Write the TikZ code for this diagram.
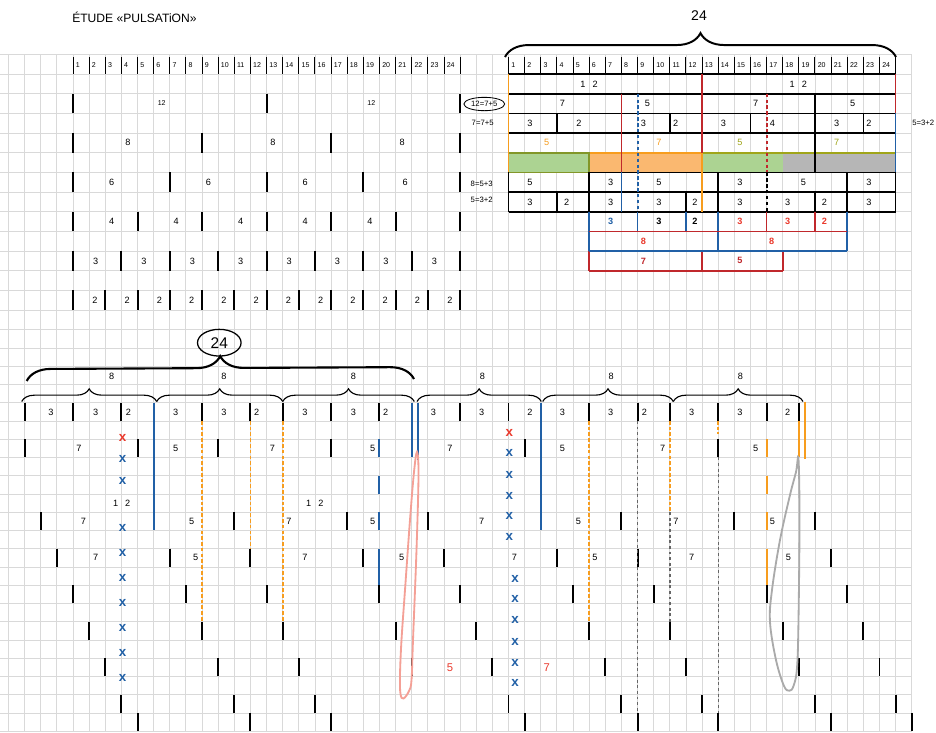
\documentclass[tikz,border=0pt]{standalone}
\usepackage{fontspec}
\setmainfont{Liberation Sans}
\usetikzlibrary{decorations.pathreplacing,shapes.geometric}

\definecolor{pblue}{RGB}{33,96,166}
\definecolor{porange}{RGB}{247,157,30}
\definecolor{pred}{RGB}{192,40,44}
\definecolor{pbright}{RGB}{234,58,45}
\definecolor{pgreen}{RGB}{172,211,146}
\definecolor{pofill}{RGB}{250,184,112}
\definecolor{pgrey}{RGB}{182,182,182}
\definecolor{polive}{RGB}{160,165,25}
\definecolor{pdkolive}{RGB}{130,150,40}
\definecolor{ploop}{RGB}{244,160,150}
\definecolor{pgloop}{RGB}{170,170,170}

\tikzset{
  gridline/.style={draw=black!15, line width=0.6pt},
  bar/.style={line width=1.4pt},
  hbar/.style={line width=0.7pt},
  tline/.style={line width=1.2pt},
  num/.style={font=\fontsize{6.5}{7}\selectfont, inner sep=0pt},
  bnum/.style={font=\fontsize{6.5}{7}\selectfont\bfseries, inner sep=0pt},
  hnum/.style={font=\fontsize{5}{6}\selectfont, inner sep=0pt, anchor=west},
  eqlabel/.style={font=\fontsize{5.5}{6}\selectfont, inner sep=0pt},
  odots/.style={draw=porange, line width=1.3pt, dash pattern=on 2.6pt off 1.5pt},
  gdash/.style={draw=black!60, line width=1pt, dash pattern=on 2pt off 2pt},
  tdash/.style={line width=1.4pt, dash pattern=on 2.4pt off 1.8pt},
  xmark/.style={font=\fontsize{9.5}{10}\selectfont\bfseries, text=pblue, inner sep=0pt},
  bigbrace/.style={decorate, decoration={brace, amplitude=17pt}, line width=1.4pt},
  smallbrace/.style={decorate, decoration={brace, amplitude=9pt}, line width=0.8pt},
  bigtext/.style={font=\fontsize{11}{12}\selectfont, inner sep=0pt},
}

\begin{document}
\begin{tikzpicture}[x=0.025cm, y=-0.025cm,
  declare function={cx(\n)=73+16.13*\n; tx(\n)=508.5+16.13*\n; ty(\n)=74+19.67*\n; by(\n)=402.7+18.25*\n;}]
\fill[white] (0,0) rectangle (936,732);
\useasboundingbox (0,0) rectangle (936,732);

% grid paper
\foreach \i in {-4,...,52} \draw[gridline] ({cx(\i)},55) -- ({cx(\i)},732);
\foreach \i in {-1,...,12} \draw[gridline] (0,{ty(\i)}) -- (912,{ty(\i)});
\foreach \i in {-4,...,18} \draw[gridline] (0,{by(\i)}) -- (912,{by(\i)});

\node[anchor=west, font=\fontsize{8.6}{10}\selectfont, inner sep=0pt] (title) at (72,17) {ÉTUDE «PULSATiON»};

% ---- top left: divisions of 24
\foreach \i in {0,...,24} \draw[hbar] ({cx(\i)},57) -- ({cx(\i)},{ty(0)});
\foreach \i in {1,...,24} \node[hnum] (ha\i) at ({cx(\i-1)+2.5},65.5) {\i};
\foreach \r/\s in {1/12,3/8,5/6,7/4,9/3,11/2}{
  \foreach \i in {0,\s,...,24}
    \draw[bar] ({cx(\i)},{ty(\r)}) -- ({cx(\i)},{ty(\r+1)});
}
\node[hnum, anchor=center] (d12a) at ({cx(5.5)},{(ty(1)+ty(2))/2}) {12};
\node[hnum, anchor=center] (d12b) at ({cx(18.5)},{(ty(1)+ty(2))/2}) {12};
\foreach \x/\r/\lbl [count=\n] in {3.4/3/8,12.4/3/8,20.4/3/8,
    2.4/5/6,8.4/5/6,14.4/5/6,20.6/5/6,
    2.4/7/4,6.4/7/4,10.4/7/4,14.4/7/4,18.4/7/4}
  \node[num] (dl\n) at ({cx(\x)},{(ty(\r)+ty(\r+1))/2}) {\lbl};
\foreach \i in {0,3,...,21} \node[num] (d3-\i) at ({cx(\i+1.4)},{(ty(9)+ty(10))/2}) {3};
\foreach \i in {0,2,...,22} \node[num] (d2-\i) at ({cx(\i+1.36)},{(ty(11)+ty(12))/2}) {2};

% ---- top right: the table
\fill[pgreen] ({tx(0)},{ty(4)}) rectangle ({tx(5)},{ty(5)});
\fill[pofill] ({tx(5)},{ty(4)}) rectangle ({tx(12)},{ty(5)});
\fill[pgreen] ({tx(12)},{ty(4)}) rectangle ({tx(17)},{ty(5)});
\fill[pgrey] ({tx(17)},{ty(4)}) rectangle ({tx(24)},{ty(5)});

\foreach \i in {0,...,24} \draw[hbar] ({tx(\i)},57) -- ({tx(\i)},{ty(0)});
\foreach \i in {1,...,24} \node[hnum] (hb\i) at ({tx(\i-1)+2.5},65.5) {\i};

\foreach \i in {0,1,2,3,5,6,7} \draw[tline] ({tx(0)},{ty(\i)}) -- ({tx(24)},{ty(\i)});
\draw[tline, porange] ({tx(0)},{ty(4)}) -- ({tx(12)},{ty(4)});
\draw[tline, polive] ({tx(12)},{ty(4)}) -- ({tx(24)},{ty(4)});
\draw[tline, pdkolive] ({tx(0)},{ty(4)}) rectangle ({tx(5)},{ty(5)});

\foreach \x/\a/\b/\col in {0/0/5/porange, 0/5/7/black,
    24/0/2/pred, 24/2/5/pblue, 24/5/7/black,
    12/0/4/pred, 12/4/7/porange, 7/1/5/pred, 7/5/7/pblue,
    19/1/5/black, 19/6/7/black,
    3/2/3/black, 10/2/3/black, 15/2/3/black, 22/2/3/black,
    5/5/7/black, 13/5/7/black, 21/5/7/black, 3/6/7/black, 11/6/7/black,
    5/7/9/pblue, 5/9/10/pred, 8/7/8/pblue, 11/7/8/pblue, 13/7/9/pblue,
    16/7/8/pred, 19/7/8/pred, 21/7/9/pblue, 12/9/10/pred, 17/9/10/pred}
  \draw[tline, draw=\col] ({tx(\x)},{ty(\a)}) -- ({tx(\x)},{ty(\b)});
\draw[tline, pred] ({tx(5)},{ty(8)}) -- ({tx(21)},{ty(8)});
\draw[tline, pblue] ({tx(5)},{ty(9)}) -- ({tx(21)},{ty(9)});
\draw[tline, pred] ({tx(5)},{ty(10)}) -- ({tx(17)},{ty(10)});
\draw[tdash, pblue] ({tx(8)},{ty(1)}) -- ({tx(8)},{ty(7)});
\draw[tdash, pred] ({tx(16)},{ty(1)}) -- ({tx(16)},{ty(5)});
\draw[tdash, black] ({tx(16)},{ty(5)}) -- ({tx(16)},{ty(7)});

\node[num] (t12a) at (589,{(ty(0)+ty(1))/2}) {1\hspace{5pt}2};
\node[num] (t12b) at (798.3,{(ty(0)+ty(1))/2}) {1\hspace{5pt}2};
\foreach \x/\r/\lbl [count=\n] in {562.3/1/7, 647.5/1/5, 755.7/1/7, 852.7/1/5,
    530/2/3, 579/2/2, 643.3/2/3, 675.7/2/2, 723.3/2/3, 772.3/2/4, 836.7/2/3, 869/2/2,
    530/5/5, 610.7/5/3, 659/5/5, 740/5/3, 803.3/5/5, 869/5/3,
    530/6/3, 566.7/6/2, 610.7/6/3, 659/6/3, 695/6/2, 740/6/3, 787.7/6/3, 824.3/6/2, 869/6/3}
  \node[num] (tv\n) at (\x,{(ty(\r)+ty(\r+1))/2}) {\lbl};
\foreach \x/\r/\lbl/\col [count=\n] in {546.7/3/5/porange, 659/3/7/porange, 740/3/5/polive, 836.7/3/7/polive}
  \node[num, text=\col] (tc\n) at (\x,{(ty(\r)+ty(\r+1))/2}) {\lbl};
\foreach \x/\r/\lbl/\col [count=\n] in {610.7/7/3/pblue, 659/7/3/black, 695/7/2/black,
    740/7/3/pbright, 787.7/7/3/pbright, 824.3/7/2/pbright,
    643.3/8/8/pbright, 771.7/8/8/pbright, 643.3/9/7/pred, 740/9/5/pred}
  \node[bnum, text=\col] (tb\n) at (\x,{(ty(\r)+ty(\r+1))/2}) {\lbl};

\node[draw, ellipse, line width=0.6pt, eqlabel, minimum width=29pt, minimum height=9.5pt] (eq1) at (484.3,104) {12=7+5};
\node[eqlabel] (eq2) at (482.7,122.7) {7=7+5};
\node[eqlabel] (eq3) at (481.7,184) {8=5+3};
\node[eqlabel] (eq4) at (481.7,200) {5=3+2};
\node[eqlabel] (eq5) at (923.3,122.7) {5=3+2};

\draw[bigbrace] (505,57) -- (896,57);
\node[font=\fontsize{10}{11}\selectfont, inner sep=0pt] (top24) at (699,16) {24};

% ---- bottom: the pulses
\draw[bigbrace, line width=1.5pt] (26.7,381) -- (414,379);
\node[draw, ellipse, line width=0.9pt, bigtext, minimum width=31pt, minimum height=19pt] (oval24) at (219.3,342.7) {24};
\foreach \a/\b [count=\n] in {21.7/156.7, 156.7/282.7, 282.7/414.3, 417/541.3, 542.7/673.3, 673.3/803}
  \draw[smallbrace] (\a,401.5) -- (\b,401.5);
\foreach \x [count=\n] in {111.7,224,353.3,482.3,611.2,740.5}
  \node[num] (b8-\n) at (\x,376) {8};

\foreach \k/\cols in {0/{-3,0,3,8,11,13,16,19,24,27,32,35,37,40,43,45},
    2/{-3,4,9,16,28,40}, 6/{-2,10,17,22,34,41,46}, 8/{-1,6,11,18,23,30,35,47},
    10/{0,7,12,19,24,31,36,43,48}, 12/{1,8,13,20,25,32,37,44,49},
    14/{2,9,14,21,26,33,38,45,50}, 16/{3,10,15,27,34,39,46,51},
    17/{4,11,16,28,35,40,47,52}}{
  \foreach \x in \cols
    \draw[bar] ({cx(\x)},{by(\k)}) -- ({cx(\x)},{by(\k+1)});
}

% coloured marks
\draw[bar, pblue] ({cx(5)},{by(0)}) -- ({cx(5)},{by(7)});
\draw[bar, pblue] ({cx(29)},{by(0)}) -- ({cx(29)},{by(7)});
\draw[bar, pblue] ({cx(21)},{by(0)}) -- ({cx(21)},{by(3)});
\draw[bar, pblue] ({cx(21)+6},{by(0)}) -- ({cx(21)+6},460);
\foreach \a/\b in {2/3,4/5,6/7,8/10}{
  \draw[bar, pblue] ({cx(19)},{by(\a)}) -- ({cx(19)},{by(\b)});
  \draw[bar, porange] ({cx(43)},{by(\a)}) -- ({cx(43)},{by(\b)});
}
\draw[bar, porange] ({cx(45)},{by(1)}) -- ({cx(45)},{by(3)});
\draw[bar, porange] ({cx(45)+6},401.5) -- ({cx(45)+6},458.5);
\foreach \x/\b in {8/12, 11/8, 13/12, 32/12, 37/6}
  \draw[odots] ({cx(\x)},{by(1)}) -- ({cx(\x)},{by(\b)});
\draw[odots] ({cx(40)},{by(1)}) -- ({cx(40)},434);
\draw[gdash] ({cx(35)},{by(1)}) -- ({cx(35)},{by(17)});
\draw[gdash] ({cx(37)},{by(6)}) -- ({cx(37)},{by(12)});
\draw[gdash] ({cx(40)},{by(3)}) -- ({cx(40)},{by(17)});

% labels of the rows
\foreach \x/\y/\lbl [count=\n] in {51/412.3/3, 95.7/412.3/3, 128.3/412.3/2, 175.7/412.3/3, 224/412.3/3,
    256.7/412.3/2, 305/412.3/3, 353.3/412.3/3, 385.7/412.3/2, 433.3/412.3/3, 481.7/412.3/3,
    530/412.3/2, 562.3/412.3/3, 610.7/412.3/3, 644.3/412.3/2, 691.7/412.3/3, 740/412.3/3, 787.7/412.3/2,
    79/448.3/7, 175.7/448.3/5, 272.3/448.3/7, 372.7/448.3/5, 450/448.3/7, 562.3/448.3/5, 662.7/448.3/7, 755.7/448.3/5,
    83.3/521.3/7, 191.7/521.3/5, 289/521.3/7, 372.7/521.3/5, 481.7/521.3/7, 578.3/521.3/5, 676/521.3/7, 772.3/521.3/5,
    95.7/557.7/7, 195.7/557.7/5, 305/557.7/7, 401.7/557.7/5, 514.3/557.7/7, 595/557.7/5, 691.7/557.7/7, 788.3/557.7/5}
  \node[num] (bl\n) at (\x,\y) {\lbl};
\node[num] (b12a) at (121.7,503.3) {1\hspace{5pt}2};
\node[num] (b12b) at (314.8,503.3) {1\hspace{5pt}2};

\node[xmark, text=pbright] (xa0) at (122.7,438.3) {x};
\foreach \y [count=\n] in {459.3,481,528.3,553.3,578.3,603.3,628.3,653.3,678.3}
  \node[xmark] (xa\n) at (122.7,\y) {x};
\node[xmark, text=pbright] (xb0) at (509.3,432.7) {x};
\foreach \y [count=\n] in {453.3,475,495.7,516,536.7}
  \node[xmark] (xb\n) at (509.3,\y) {x};
\foreach \y [count=\n] in {579,599,620,642.3,662.7,682.7}
  \node[xmark] (xc\n) at (515,\y) {x};

\node[font=\fontsize{8}{9}\selectfont, text=pbright, inner sep=0pt] (r5) at (450,667.3) {5};
\node[font=\fontsize{8}{9}\selectfont, text=pbright, inner sep=0pt] (r7) at (546.7,667.3) {7};

% hand-drawn loops
\draw[ploop, line width=1.3pt] plot[smooth cycle, tension=0.6] coordinates {(417,452) (418.5,475) (416.5,550)
  (413,640) (411.5,680) (409,691) (403.5,698.5) (400.5,694) (400,675) (401.5,640) (405,590) (410,520) (414,472)};
\draw[pgloop, line width=1.3pt] plot[smooth cycle, tension=0.6] coordinates {(798.5,459) (799.5,520) (798.5,620)
  (797,668) (793.5,686) (789.5,690.7) (784,686) (776,660) (770,622) (772,590) (780,540) (790,495) (796,472)};
\end{tikzpicture}
\end{document}
